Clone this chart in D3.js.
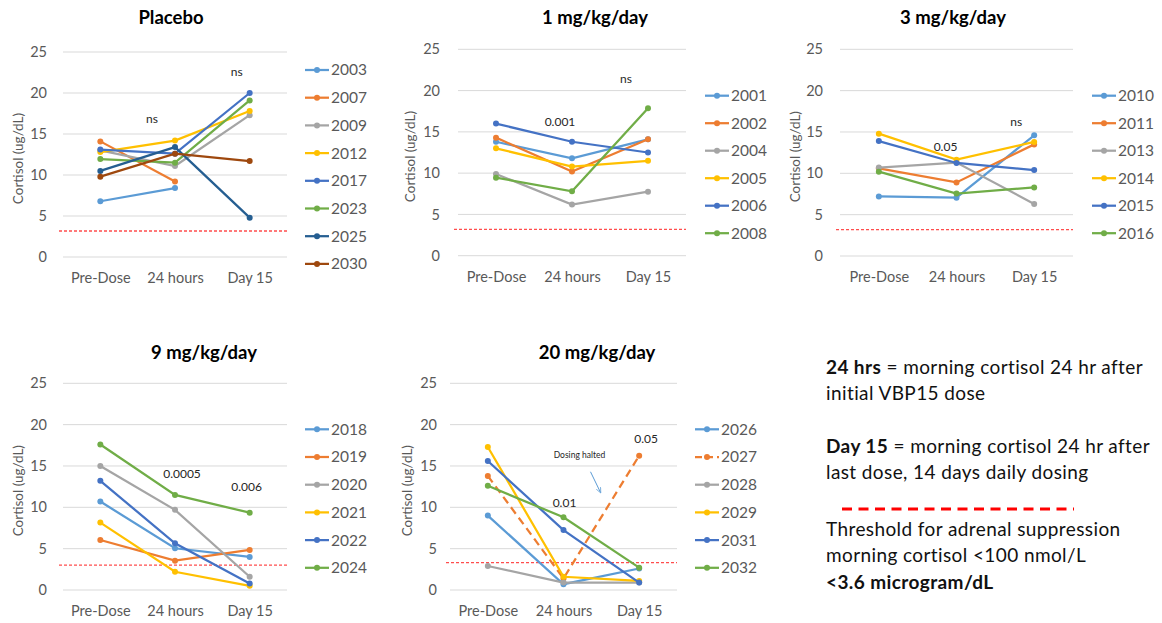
<!DOCTYPE html>
<html>
<head>
<meta charset="utf-8">
<script src="https://cdn.jsdelivr.net/npm/d3@7"></script>
<style>
  body { margin: 0; background: #fff; }
  svg text { font-family: Lato, 'Open Sans', sans-serif; }
</style>
</head>
<body>
<svg id="chart" width="1162" height="623"></svg>
<script>

// data
var categories = [ 'Pre-Dose', '24 hours', 'Day 15' ];
var yTicks = [ 0, 5, 10, 15, 20, 25 ];
var palette = [ '#5B9BD5', '#ED7D31', '#A5A5A5', '#FFC000', '#4472C4', '#70AD47', '#255E91', '#9E480E' ];

var placeboIds = [ '2003', '2007', '2009', '2012', '2017', '2023', '2025', '2030' ];
var placeboValues = [
    [ 6.8, 8.4, null ],
    [ 14.1, 9.2, null ],
    [ 13.0, 11.1, 17.3 ],
    [ 12.8, 14.2, 17.8 ],
    [ 13.1, 12.6, 20.0 ],
    [ 11.95, 11.5, 19.1 ],
    [ 10.5, 13.4, 4.8 ],
    [ 9.8, 12.6, 11.7 ]
];

var dose1Ids = [ '2001', '2002', '2004', '2005', '2006', '2008' ];
var dose1Values = [
    [ 13.8, 11.8, 14.1 ],
    [ 14.3, 10.2, 14.1 ],
    [ 9.9, 6.2, 7.75 ],
    [ 13.0, 10.8, 11.5 ],
    [ 16.0, 13.8, 12.5 ],
    [ 9.45, 7.8, 17.85 ]
];

var dose3Ids = [ '2010', '2011', '2013', '2014', '2015', '2016' ];
var dose3Values = [
    [ 7.2, 7.05, 14.6 ],
    [ 10.6, 8.9, 13.5 ],
    [ 10.7, 11.3, 6.3 ],
    [ 14.8, 11.65, 13.8 ],
    [ 13.9, 11.25, 10.4 ],
    [ 10.2, 7.55, 8.3 ]
];

var dose9Ids = [ '2018', '2019', '2020', '2021', '2022', '2024' ];
var dose9Values = [
    [ 10.7, 5.05, 4.0 ],
    [ 6.05, 3.55, 4.85 ],
    [ 15.0, 9.7, 1.6 ],
    [ 8.15, 2.2, 0.5 ],
    [ 13.2, 5.65, 0.8 ],
    [ 17.6, 11.5, 9.35 ]
];

var dose20Ids = [ '2026', '2027', '2028', '2029', '2031', '2032' ];
var dose20Values = [
    [ 9.0, 0.7, 2.6 ],
    [ 13.8, 1.4, 16.25 ],
    [ 2.9, 0.9, 0.9 ],
    [ 17.3, 1.6, 1.1 ],
    [ 15.6, 7.25, 0.9 ],
    [ 12.6, 8.8, 2.7 ]
];
var dose20Dashed = [ '2027' ];

var thresholdValues = [ 3.17, 3.2, 3.2, 3.0, 3.3 ];

// [ category, value, text ] per panel
var annotations = [
    [ [ '24 hours', 16.8, 'ns' ], [ 'Day 15', 22.6, 'ns' ] ],
    [ [ '24 hours', 16.2, '0.001' ], [ 'Day 15', 21.4, 'ns' ] ],
    [ [ '24 hours', 13.2, '0.05' ], [ 'Day 15', 16.2, 'ns' ] ],
    [ [ '24 hours', 14.0, '0.0005' ], [ 'Day 15', 12.5, '0.006' ] ],
    [ [ '24 hours', 10.6, '0.01' ], [ 'Day 15', 18.3, '0.05' ] ]
];
var annotationShift = [ [ -23, -13 ], [ -12, -22 ], [ -11, -18 ], [ 7, -3 ], [ 1, 7 ] ];

// layout of the five panels
var panels = [
    { title: 'Placebo', ids: placeboIds, values: placeboValues, left: 63, right: 287, top: 52, bottom: 257, titleX: 171, titleY: 24, legendX: 305, legendY: 70, legendStep: 27.7, labelX: 18, tickX: 47 },
    { title: '1 mg/kg/day', ids: dose1Ids, values: dose1Values, left: 458, right: 686, top: 49.3, bottom: 255.7, titleX: 595, titleY: 24, legendX: 705, legendY: 95.7, legendStep: 27.5, labelX: 410, tickX: 440 },
    { title: '3 mg/kg/day', ids: dose3Ids, values: dose3Values, left: 840, right: 1073, top: 49.3, bottom: 256, titleX: 953, titleY: 24, legendX: 1092, legendY: 95.7, legendStep: 27.5, labelX: 795, tickX: 823 },
    { title: '9 mg/kg/day', ids: dose9Ids, values: dose9Values, left: 63, right: 287, top: 383.3, bottom: 590, titleX: 204, titleY: 359, legendX: 305, legendY: 429.3, legendStep: 27.7, labelX: 18, tickX: 47 },
    { title: '20 mg/kg/day', ids: dose20Ids, values: dose20Values, dashed: dose20Dashed, left: 450, right: 677, top: 383.3, bottom: 590, titleX: 597, titleY: 359, legendX: 695, legendY: 429.3, legendStep: 27.7, labelX: 407, tickX: 437 }
];

var svg = d3.select('#chart');

panels.forEach( function ( p, pi ) {

    var x = d3.scalePoint()
        .domain( categories )
        .range([ p.left, p.right ])
        .padding( 0.5 );

    var y = d3.scaleLinear()
        .domain([ 0, 25 ])
        .range([ p.bottom, p.top ]);

    var g = svg.append('g');

    // title
    g.append('text')
        .attr('x', p.titleX)
        .attr('y', p.titleY)
        .attr('text-anchor', 'middle')
        .style('font-size', '18.5px')
        .style('font-weight', 'bold')
        .style('fill', '#000')
        .text( p.title );

    // gridlines
    g.selectAll('.grid')
        .data( yTicks )
        .enter().append('line')
        .attr('x1', p.left)
        .attr('x2', p.right)
        .attr('y1', function ( d ) { return y( d ) })
        .attr('y2', function ( d ) { return y( d ) })
        .style('stroke', '#d9d9d9')
        .style('stroke-width', 1);

    // y axis, drawn by d3 then stripped of domain and ticks
    var yAxis = g.append('g')
        .attr('transform', 'translate(' + p.tickX + ',0)')
        .call( d3.axisLeft( y ).tickValues( yTicks ).tickSize( 0 ).tickPadding( 0 ) );
    yAxis.select('.domain').remove();
    yAxis.selectAll('text')
        .attr('x', 0)
        .style('font-family', 'Lato, sans-serif')
        .style('font-size', '14.5px')
        .style('fill', '#595959');

    var xAxis = g.append('g')
        .attr('transform', 'translate(0,' + ( p.bottom + 16 ) + ')')
        .call( d3.axisBottom( x ).tickSize( 0 ).tickPadding( 0 ) );
    xAxis.select('.domain').remove();
    xAxis.selectAll('text')
        .attr('dy', '0.71em')
        .style('font-family', 'Lato, sans-serif')
        .style('font-size', '14.5px')
        .style('fill', '#595959');

    // y axis title
    g.append('text')
        .attr('transform', 'translate(' + p.labelX + ',' + ( ( p.top + p.bottom ) / 2 + 4 ) + ') rotate(-90)')
        .attr('text-anchor', 'middle')
        .attr('dy', '0.35em')
        .style('font-size', '13.5px')
        .style('fill', '#595959')
        .text('Cortisol (ug/dL)');

    // threshold
    g.append('line')
        .attr('x1', p.left - 4)
        .attr('x2', p.right)
        .attr('y1', y( thresholdValues[ pi ] ))
        .attr('y2', y( thresholdValues[ pi ] ))
        .style('stroke', '#ff4d4d')
        .style('stroke-width', 1.3)
        .style('stroke-dasharray', '3,2');

    var line = d3.line()
        .defined( function ( d ) { return d !== null })
        .x( function ( d, i ) { return x( categories[ i ] ) })
        .y( function ( d ) { return y( d ) });

    p.values.forEach( function ( vals, si ) {

        var color = palette[ si ];
        var dashed = p.dashed && p.dashed.indexOf( p.ids[ si ] ) >= 0;

        g.append('path')
            .attr('d', line( vals ))
            .style('fill', 'none')
            .style('stroke', color)
            .style('stroke-width', 2.25)
            .style('stroke-dasharray', dashed ? '8,5' : null);

        g.selectAll('.pt' + si)
            .data( vals.map( function ( v, i ) { return { v: v, c: categories[ i ] } }).filter( function ( d ) { return d.v !== null }) )
            .enter().append('circle')
            .attr('cx', function ( d ) { return x( d.c ) })
            .attr('cy', function ( d ) { return y( d.v ) })
            .attr('r', 3)
            .style('fill', color);

        // legend
        var ly = p.legendY + si * p.legendStep;
        g.append('line')
            .attr('x1', p.legendX)
            .attr('x2', p.legendX + 24)
            .attr('y1', ly)
            .attr('y2', ly)
            .style('stroke', color)
            .style('stroke-width', 2.25)
            .style('stroke-dasharray', dashed ? '7,4' : null);
        g.append('circle')
            .attr('cx', p.legendX + 12)
            .attr('cy', ly)
            .attr('r', 3)
            .style('fill', color);
        g.append('text')
            .attr('x', p.legendX + 26)
            .attr('y', ly)
            .attr('dy', '0.35em')
            .style('font-size', '15.5px')
            .style('fill', '#595959')
            .text( p.ids[ si ] );

    });

    // significance labels
    annotations[ pi ].forEach( function ( a, ai ) {

        g.append('text')
            .attr('x', x( a[ 0 ] ) + annotationShift[ pi ][ ai ])
            .attr('y', y( a[ 1 ] ))
            .attr('dy', '0.35em')
            .attr('text-anchor', 'middle')
            .style('font-size', '12px')
            .style('fill', '#262626')
            .text( a[ 2 ] );

    });

    if ( pi === 4 ) {

        g.append('text')
            .attr('x', x('24 hours') + 16)
            .attr('y', y( 16.3 ))
            .attr('dy', '0.35em')
            .attr('text-anchor', 'middle')
            .style('font-size', '8.5px')
            .style('fill', '#262626')
            .text('Dosing halted');

        g.append('line')
            .attr('x1', x('24 hours') + 27)
            .attr('y1', y( 14.3 ))
            .attr('x2', x('24 hours') + 37)
            .attr('y2', y( 11.8 ))
            .style('stroke', '#5B9BD5')
            .style('stroke-width', 1)
            .attr('marker-end', 'url(#arrow)');

    }

});

var defs = svg.append('defs');
defs.append('marker')
    .attr('id', 'arrow')
    .attr('viewBox', '0 0 10 10')
    .attr('refX', 8)
    .attr('refY', 5)
    .attr('markerWidth', 6)
    .attr('markerHeight', 6)
    .attr('orient', 'auto')
    .append('path')
    .attr('d', 'M0,1 L9,5 L0,9')
    .style('fill', 'none')
    .style('stroke', '#5B9BD5')
    .style('stroke-width', 1.2);

// explanatory notes on the right
var notes = svg.append('g')
    .style('font-size', '19px')
    .style('letter-spacing', '0.4px')
    .style('fill', '#111');

function noteLine ( y, bold, rest ) {

    var t = notes.append('text')
        .attr('x', 826)
        .attr('y', y);

    if ( bold ) {
        t.append('tspan').style('font-weight', 'bold').text( bold );
    }
    if ( rest ) {
        t.append('tspan').text( rest );
    }

}

noteLine( 374, '24 hrs', ' = morning cortisol 24 hr after' );
noteLine( 400, null, 'initial VBP15 dose' );
noteLine( 453, 'Day 15', ' = morning cortisol 24 hr after' );
noteLine( 479, null, 'last dose, 14 days daily dosing' );

notes.append('line')
    .attr('x1', 842)
    .attr('x2', 1074)
    .attr('y1', 509)
    .attr('y2', 509)
    .style('stroke', '#ff0000')
    .style('stroke-width', 3)
    .style('stroke-dasharray', '10,6.5');

noteLine( 536, null, 'Threshold for adrenal suppression' );
noteLine( 562, null, 'morning cortisol <100 nmol/L' );
noteLine( 589, '<3.6 microgram/dL', null );

</script>
</body>
</html>
